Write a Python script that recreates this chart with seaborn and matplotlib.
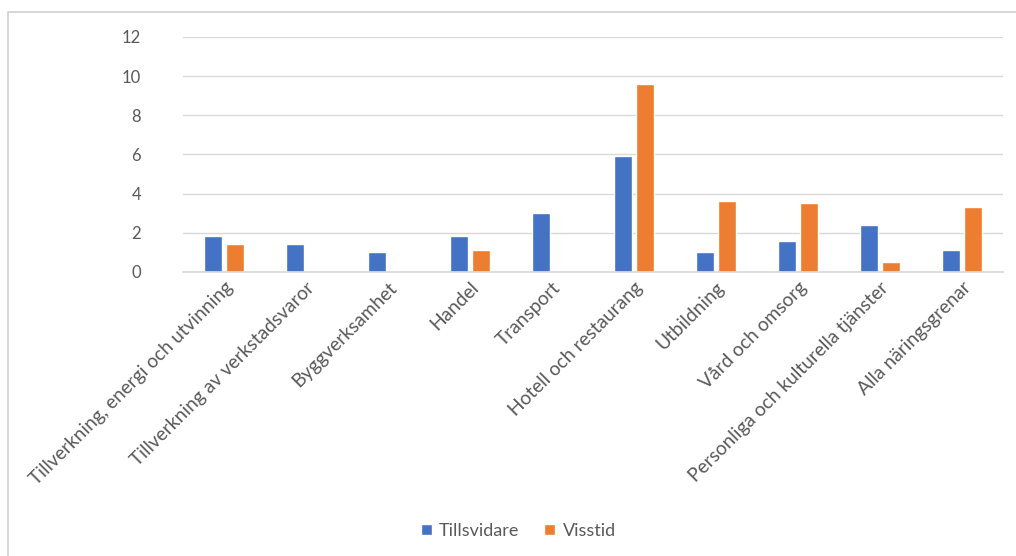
import matplotlib
matplotlib.use("Agg")
import matplotlib.pyplot as plt
import matplotlib.patches as mpatches
import seaborn as sns
import pandas as pd

categories = [
    "Tillverkning, energi och utvinning",
    "Tillverkning av verkstadsvaror",
    "Byggverksamhet",
    "Handel",
    "Transport",
    "Hotell och restaurang",
    "Utbildning",
    "Vård och omsorg",
    "Personliga och kulturella tjänster",
    "Alla näringsgrenar",
]
tillsvidare = [1.85, 1.4, 1.0, 1.85, 3.0, 5.9, 1.0, 1.6, 2.4, 1.1]
visstid = [1.4, 0.0, 0.0, 1.1, 0.0, 9.6, 3.6, 3.5, 0.5, 3.3]
series_names = ["Tillsvidare", "Visstid"]
yticks = [0, 2, 4, 6, 8, 10, 12]

df = pd.DataFrame({
    "cat": categories * 2,
    "val": tillsvidare + visstid,
    "serie": [series_names[0]] * len(categories) + [series_names[1]] * len(categories),
})

sns.set_theme(style="white")
plt.rcParams["font.family"] = ["Lato", "DejaVu Sans"]

fig = plt.figure(figsize=(10.16, 5.56), dpi=100)
ax = fig.add_axes([0.18, 0.511, 0.807, 0.4225])

palette = {"Tillsvidare": "#4472C4", "Visstid": "#ED7D31"}
sns.barplot(data=df, x="cat", y="val", hue="serie", palette=palette,
            width=0.55, gap=0.2, ax=ax, legend=True, saturation=1)

ax.set_ylim(0, 12)
ax.set_yticks(yticks)
ax.set_yticklabels([str(t) for t in yticks], color="#595959", fontsize=12)
ax.yaxis.grid(True, color="#D9D9D9", linewidth=1)
ax.set_axisbelow(True)
for s in ["top", "right", "left"]:
    ax.spines[s].set_visible(False)
ax.spines["bottom"].set_color("#D9D9D9")
ax.tick_params(axis="y", length=0, pad=30)
ax.tick_params(axis="x", length=0, pad=5)
ax.set_xlabel("")
ax.set_ylabel("")
ax.set_xlim(-0.5, len(categories) - 0.5)
plt.setp(ax.get_xticklabels(), rotation=45, ha="right", rotation_mode="anchor",
         color="#595959", fontsize=13.8)

handles, labels = ax.get_legend_handles_labels()
ax.get_legend().remove()
fig.legend(handles, labels, loc="center", bbox_to_anchor=(0.51, 0.045), ncol=2,
           frameon=False, handlelength=0.6, handleheight=0.6, handletextpad=0.4,
           columnspacing=1.4, fontsize=13, labelcolor="#595959")

border = mpatches.Rectangle((0.008, -0.02), 1.0, 0.998, transform=fig.transFigure,
                            fill=False, edgecolor="#D0D0D0", linewidth=1.2)
fig.patches.append(border)

fig.savefig("out.png", dpi=100)
